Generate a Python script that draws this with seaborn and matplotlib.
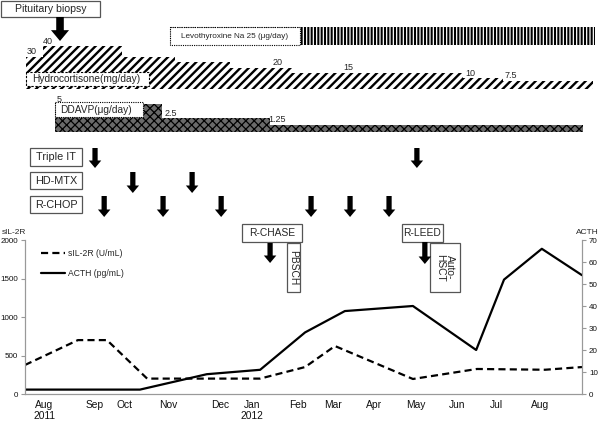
import numpy as np
import matplotlib
matplotlib.use("Agg")
import matplotlib.pyplot as plt
import seaborn as sns
import pandas as pd
from matplotlib.patches import Rectangle
from matplotlib.lines import Line2D

# ---------------- data ----------------
month_labels = ["Aug\n2011", "Sep", "Oct", "Nov", "Dec", "Jan\n2012", "Feb",
                "Mar", "Apr", "May", "Jun", "Jul", "Aug"]
month_pos = [0.48, 1.76, 2.49, 3.59, 4.90, 5.70, 6.86, 7.74, 8.77, 9.83, 10.86, 11.86, 12.94]

sil_t = [0, 1.33, 2.06, 3.07, 5.91, 7.04, 7.79, 9.75, 11.36, 13.07, 14.0]
sil_v = [377, 700, 700, 200, 200, 350, 623, 195, 325, 315, 350]
acth_t = [0, 2.89, 4.57, 5.91, 7.04, 8.04, 9.75, 11.34, 12.04, 12.99, 14.0]
acth_v = [2, 2, 9, 11, 28, 37.7, 40, 20, 52, 66, 54]

hc_start = [0.03, 0.45, 2.44, 3.77, 5.15, 6.71, 11.00, 12.01]
hc_end = [0.45, 2.44, 3.77, 5.15, 6.71, 11.00, 12.01, 14.27]
hc_dose = [30, 40, 30, 25, 20, 15, 10, 7.5]
hc_label = ["30", "40", "", "", "20", "15", "10", "7.5"]
hc_label_t = [0.05, 0.45, 0, 0, 6.21, 7.99, 11.06, 12.06]

dd_start = [0.75, 3.44, 6.16]
dd_end = [3.44, 6.16, 14.02]
dd_dose = [5, 2.5, 1.25]
dd_label = ["5", "2.5", "1.25"]
dd_label_t = [0.80, 3.52, 6.11]

levo_start, levo_end = 3.64, 14.33

biopsy_t = [0.88]
triple_it_t = [1.76, 9.85]
hdmtx_t = [2.71, 4.20]
rchop_t = [1.99, 3.47, 4.93, 7.19, 8.17, 9.15]
rchase_t = [6.16]
rleed_t = [10.05]

# ---------------- style ----------------
sns.set_style("white")
plt.rcParams["font.family"] = ["Liberation Sans", "DejaVu Sans"]

W, H = 600, 423
PPM = 557 / 14.0          # pixels per month unit
def m(px):
    return (px - 25) / PPM

fig = plt.figure(figsize=(W / 100, H / 100), dpi=100)

# ---------------- lower chart ----------------
ax = fig.add_axes([25 / W, (H - 394) / H, 557 / W, 154 / H])
ax.patch.set_visible(False)
ax2 = ax.twinx()

df_sil = pd.DataFrame({"t": sil_t, "v": sil_v})
df_acth = pd.DataFrame({"t": acth_t, "v": acth_v})
sns.lineplot(data=df_sil, x="t", y="v", ax=ax, color="black", lw=1.6, linestyle="--")
ax.lines[0].set_dashes((3.2, 1.9))
sns.lineplot(data=df_acth, x="t", y="v", ax=ax2, color="black", lw=1.6)

ax.set_xlim(0, 14)
ax.set_ylim(0, 2000)
ax2.set_ylim(0, 70)
ax.set_xlabel("")
ax.set_ylabel("")
ax2.set_ylabel("")
ax.set_yticks([0, 500, 1000, 1500, 2000])
ax2.set_yticks(range(0, 80, 10))

tick_marks = [0] + [(a + b) / 2 for a, b in zip(month_pos[:-1], month_pos[1:])] + [month_pos[-1] + 0.58, 14]
ax.set_xticks(month_pos, labels=month_labels)
ax.set_xticks(tick_marks, minor=True)
ax.tick_params(axis="x", which="major", length=0, pad=4, labelsize=7.4, labelcolor="#111")
ax.tick_params(axis="x", which="minor", length=3, color="#999", width=0.8, direction="out")
for lab in ax.get_xticklabels():
    lab.set_linespacing(1.15)
ax.tick_params(axis="y", length=3, color="#999", width=0.8, labelsize=5.8, pad=2, labelcolor="#111")
ax2.tick_params(axis="y", length=3, color="#999", width=0.8, labelsize=5.8, pad=2, labelcolor="#111")

for a in (ax, ax2):
    for s in a.spines.values():
        s.set_color("#999")
        s.set_linewidth(0.8)
    a.spines["top"].set_visible(False)

handles = [Line2D([], [], color="black", lw=1.6, dashes=(3.2, 1.9)),
           Line2D([], [], color="black", lw=1.6)]
ax.legend(handles, ["sIL-2R (U/mL)", "ACTH (pg/mL)"], loc="upper left",
          bbox_to_anchor=(0.015, 0.99), frameon=False, fontsize=6.2,
          handlelength=2.8, labelspacing=1.3, handletextpad=0.3)

fig.text(2 / W, 1 - 232 / H, "sIL-2R", fontsize=6, va="center", ha="left")
fig.text(576 / W, 1 - 232 / H, "ACTH", fontsize=6, va="center", ha="left")

# ---------------- upper timeline (overlay) ----------------
ov = fig.add_axes([0, 0, 1, 1], zorder=5)
ov.patch.set_visible(False)
ov.set_xlim(m(0), m(W))
ov.set_ylim(H, 0)
ov.axis("off")

# Levothyroxine
with plt.rc_context({"hatch.linewidth": 1.5}):
    ov.bar([levo_start], [27 - 45], width=[levo_end - levo_start], bottom=45, align="edge",
           color="white", edgecolor="black", hatch="|||||", linewidth=0)
ov.add_patch(Rectangle((m(170), 27), m(300) - m(170), 18, fc="white", ec="black",
                       lw=0.8, ls=(0, (1, 1))))
ov.text((m(170) + m(300)) / 2, 36.5, "Levothyroxine Na 25 (\u03bcg/day)", fontsize=5.9,
        ha="center", va="center")

# Hydrocortisone
HC_BASE, HC_K = 89, 1.07
with plt.rc_context({"hatch.linewidth": 1.7}):
    ov.bar(hc_start, [-HC_K * d for d in hc_dose], width=np.subtract(hc_end, hc_start),
           bottom=HC_BASE, align="edge", color="white", edgecolor="black", hatch="////",
           linewidth=0)
for t, d, lab in zip(hc_label_t, hc_dose, hc_label):
    if lab:
        ov.text(t, HC_BASE - HC_K * d - 0.5, lab, fontsize=6.5, ha="left", va="bottom")
ov.add_patch(Rectangle((m(26), 72), m(149) - m(26), 14, fc="white", ec="black",
                       lw=0.8, ls=(0, (2, 1.5))))
ov.text(m(32), 79.5, "Hydrocortisone(mg/day)", fontsize=7.3, ha="left", va="center")

# DDAVP
DD_BASE, DD_K = 132, 5.6
with plt.rc_context({"hatch.linewidth": 0.9}):
    ov.bar(dd_start, [-DD_K * d for d in dd_dose], width=np.subtract(dd_end, dd_start),
           bottom=DD_BASE, align="edge", color="#6a6a6a", edgecolor="#000000",
           hatch="xxxx", linewidth=0)
for t, d, lab in zip(dd_label_t, dd_dose, dd_label):
    ov.text(t, DD_BASE - DD_K * d - 0.5, lab, fontsize=6.5, ha="left", va="bottom")
ov.add_patch(Rectangle((m(55), 102), m(143) - m(55), 15.5, fc="white", ec="black",
                       lw=0.8, ls=(0, (1, 1))))
ov.text(m(60), 110, "DDAVP(\u03bcg/day)", fontsize=7.3, ha="left", va="center")

# labelled boxes
def box(x0, x1, y0, y1, text, fs=7.8, rot=0):
    ov.add_patch(Rectangle((m(x0), y0), m(x1) - m(x0), y1 - y0, fc="white",
                           ec="#555", lw=0.9, zorder=3))
    ov.text((m(x0) + m(x1)) / 2, (y0 + y1) / 2, text, fontsize=fs, ha="center",
            va="center", rotation=rot, zorder=4, linespacing=1.0)

box(1, 100, 1, 17, "Pituitary biopsy", 7.6)
box(30, 82, 148, 166, "Triple IT")
box(30, 82, 172, 189, "HD-MTX")
box(30, 82, 196, 213, "R-CHOP")
box(242, 302, 224, 242, "R-CHASE", 7.4)
box(402, 443, 224, 242, "R-LEED", 7.4)
box(287, 300, 243, 292, "PBSCH", 7.4, rot=270)
box(430, 460, 243, 292, "Auto-\nHSCT", 7.4, rot=270)

def arrows(ts, y0, y1, scale=9):
    for t in ts:
        ov.annotate("", xy=(t, y1), xytext=(t, y0),
                    arrowprops=dict(arrowstyle="simple,head_length=0.6,head_width=1.0,tail_width=0.42",
                                    fc="black", ec="black", lw=0, shrinkA=0, shrinkB=0,
                                    mutation_scale=scale))

arrows(biopsy_t, 17, 41, scale=13)
arrows(triple_it_t, 148, 168)
arrows(hdmtx_t, 172, 193)
arrows(rchop_t, 196, 217)
arrows(rchase_t, 243, 263)
arrows(rleed_t, 242, 264)

fig.savefig("out.png", dpi=100)
